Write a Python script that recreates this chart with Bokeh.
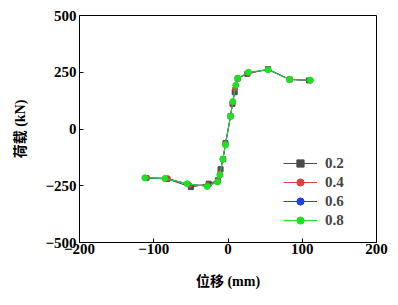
from bokeh.plotting import figure
from bokeh.models import FixedTicker, Legend, LegendItem
from bokeh.embed import file_html
from bokeh.resources import INLINE

series_names = ["0.2", "0.4", "0.6", "0.8"]

x_02 = [-110, -82, -50, -26, -13.5, -10, -6.5, -3.4, 3.4, 6, 9, 13, 26, 54, 83, 109]
y_02 = [-216, -220, -256, -241, -226, -177, -133, -62, 56, 111, 162, 222, 243, 264, 218, 214]

x_04 = [-109, -81, -52, -27, -14, -11, -7, -3.5, 3.2, 6.2, 9.5, 13, 27, 54, 83, 110]
y_04 = [-215, -217, -247, -248, -228, -195, -135, -66, 55, 115, 178, 223, 246, 262, 219, 214]

x_06 = [-111, -84, -54, -28, -14, -11, -7, -3.4, 3.4, 6.4, 10.3, 13.2, 27.5, 54, 83, 111]
y_06 = [-215, -218, -242, -252, -233, -202, -134, -69, 56, 120, 191, 224, 249, 261, 218, 215]

x_08 = [-112, -85, -55, -28, -14, -11, -7, -3.4, 3.4, 6.5, 10.5, 13.2, 27.6, 54, 83, 111]
y_08 = [-215, -218, -241, -253, -233, -203, -133, -70, 56, 121, 193, 224, 250, 261, 218, 215]

x_ticks = [-200, -100, 0, 100, 200]
y_ticks = [-500, -250, 0, 250, 500]

colors = ["#4a4a4a", "#e04040", "#2040e0", "#20e020"]

p = figure(width=398, height=305, x_range=(-200, 200), y_range=(-500, 500),
           output_backend="svg", toolbar_location=None,
           min_border_left=79, min_border_right=22, min_border_top=15, min_border_bottom=63)
p.background_fill_color = "white"
p.border_fill_color = "white"
p.grid.visible = False
p.outline_line_color = "black"
p.outline_line_width = 1

serif = "Liberation Serif"
for ax in (p.xaxis[0], p.yaxis[0]):
    ax.major_tick_in = 4
    ax.major_tick_out = 0
    ax.minor_tick_line_color = None
    ax.major_label_text_font = serif
    ax.major_label_text_font_style = "bold"
    ax.major_label_text_font_size = "15px"
    ax.major_label_text_color = "black"
    ax.axis_line_color = "black"
    ax.major_tick_line_color = "black"
    ax.axis_label_text_font = "Liberation Serif, Noto Sans CJK SC"
    ax.axis_label_text_font_style = "bold"
    ax.axis_label_text_font_size = "14px"
    ax.axis_label_text_color = "black"

p.xaxis[0].ticker = FixedTicker(ticks=x_ticks)
p.yaxis[0].ticker = FixedTicker(ticks=y_ticks)
p.xaxis[0].major_label_standoff = 1
p.yaxis[0].major_label_standoff = 3
p.xaxis[0].axis_label = "位移 (mm)"
p.yaxis[0].axis_label = "荷载 (kN)"
p.xaxis[0].axis_label_standoff = 17
p.yaxis[0].axis_label_standoff = 14

items = []
data = [(x_02, y_02), (x_04, y_04), (x_06, y_06), (x_08, y_08)]
for i, ((xs, ys), c, name) in enumerate(zip(data, colors, series_names)):
    r_line = p.line(xs, ys, line_color=c, line_width=1)
    if i == 0:
        r_m = p.scatter(xs, ys, marker="square", size=5, fill_color=c, line_color=c)
    else:
        r_m = p.scatter(xs, ys, marker="circle", size=5 if i < 3 else 6, fill_color=c, line_color=c)
    items.append(LegendItem(label=name, renderers=[r_line, r_m]))

legend = Legend(items=items, location=(204, 13))
legend.background_fill_alpha = 0
legend.border_line_color = None
legend.label_text_font = serif
legend.label_text_font_style = "bold"
legend.label_text_font_size = "15px"
legend.glyph_width = 34
legend.spacing = 1
legend.label_height = 18
legend.glyph_height = 18
legend.label_standoff = 8
legend.padding = 0
legend.margin = 0
p.add_layout(legend, "center")

open("out.html", "w").write(file_html(p, INLINE))
